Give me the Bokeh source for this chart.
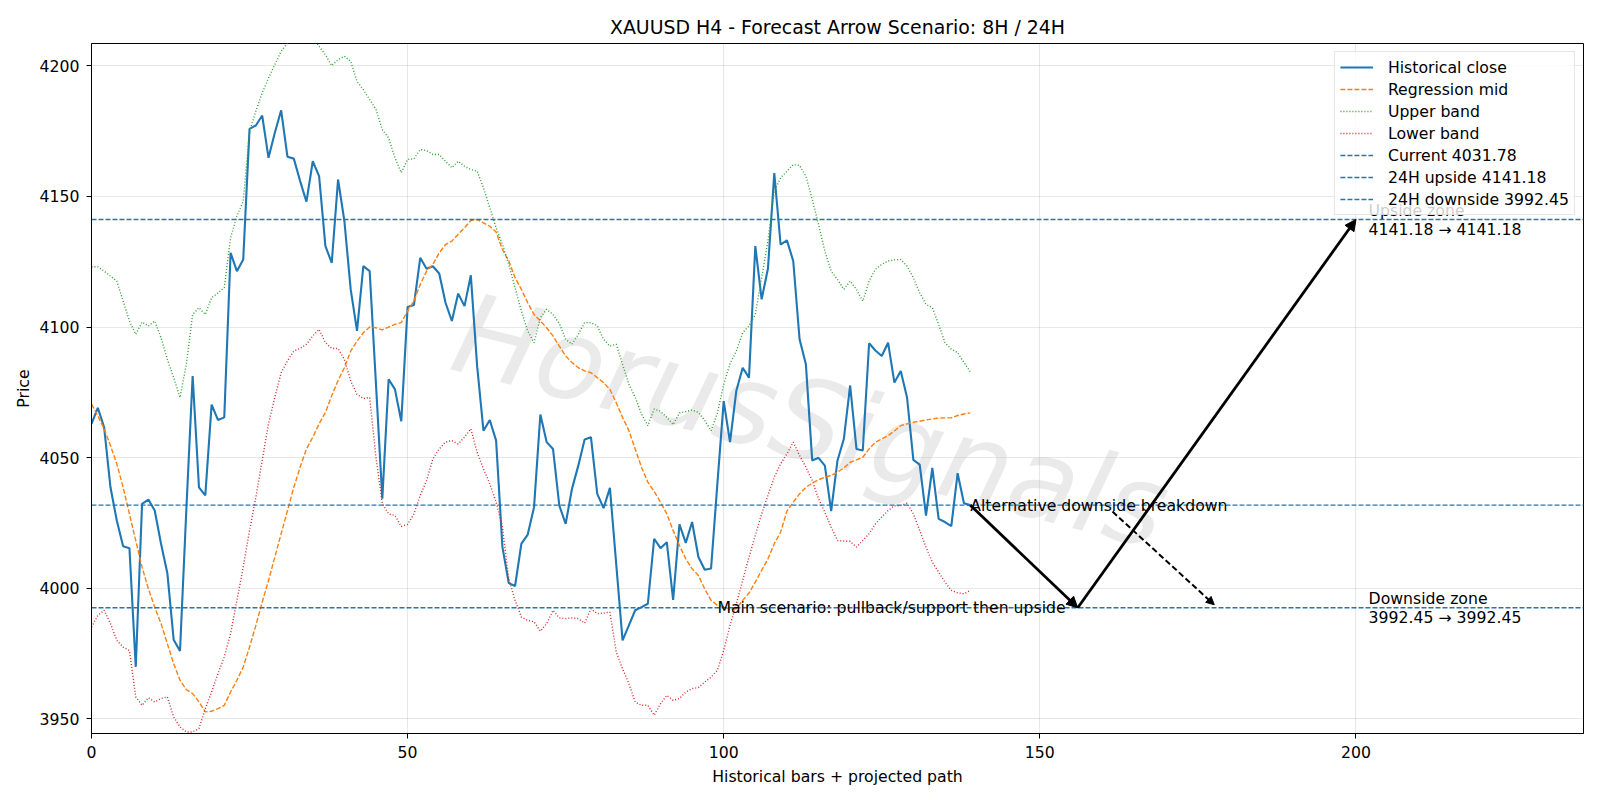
from bokeh.plotting import figure
from bokeh.models import Range1d, FixedTicker, Arrow, NormalHead, Legend, LegendItem
from bokeh.core.properties import value
from bokeh.embed import file_html
from bokeh.resources import INLINE

# ---- data -------------------------------------------------------------
bars = list(range(140))

close = [
    4062.9, 4069.0, 4061.6, 4038.6, 4025.9, 4016.0, 4015.3, 3969.8, 4032.3, 4033.9,
    4029.7, 4017.0, 4005.7, 3980.2, 3975.9, 4030.0, 4081.2, 4038.6, 4035.5, 4070.3,
    4064.4, 4065.4, 4128.4, 4121.4, 4125.9, 4175.9, 4177.2, 4181.0, 4164.8, 4174.4,
    4183.0, 4165.2, 4164.5, 4155.9, 4148.0, 4163.5, 4157.8, 4131.0, 4124.6, 4156.5,
    4140.6, 4114.4, 4098.5, 4123.3, 4121.4, 4078.0, 4034.2, 4080.0, 4076.1, 4063.9,
    4107.7, 4108.4, 4126.5, 4122.3, 4123.3, 4120.5, 4109.3, 4102.3, 4112.8, 4108.0,
    4119.8, 4085.0, 4060.3, 4064.4, 4056.5, 4015.7, 4001.9, 4000.8, 4017.0, 4020.5,
    4031.0, 4066.5, 4055.9, 4053.3, 4031.6, 4024.6, 4038.0, 4046.9, 4056.9, 4057.8,
    4036.1, 4030.6, 4038.4, 4009.2, 3980.0, 3985.7, 3991.5, 3992.7, 3994.0, 4018.9,
    4015.3, 4017.6, 3995.5, 4024.4, 4017.3, 4025.3, 4011.9, 4007.0, 4007.5, 4040.0,
    4071.6, 4055.9, 4075.6, 4084.4, 4080.6, 4131.0, 4110.6, 4122.4, 4159.0, 4131.6,
    4133.2, 4125.3, 4095.3, 4085.7, 4048.9, 4049.9, 4046.9, 4029.5, 4048.9, 4057.1,
    4077.6, 4053.3, 4052.7, 4093.8, 4091.0, 4088.9, 4094.0, 4078.7, 4083.2, 4073.0,
    4049.1, 4047.3, 4027.8, 4046.0, 4026.5, 4025.3, 4023.7, 4044.0, 4032.5, 4031.78,
]

reg_mid = [
    4070.5, 4066.0, 4061.0, 4054.6, 4047.6, 4038.6, 4028.4, 4018.2, 4008.0, 3999.7,
    3992.7, 3986.4, 3978.7, 3971.0, 3964.7, 3961.1, 3959.6, 3956.4, 3952.6, 3952.8,
    3953.8, 3955.1, 3960.2, 3964.7, 3969.8, 3977.4, 3985.7, 3994.6, 4002.9, 4011.9,
    4020.8, 4029.7, 4038.6, 4046.3, 4053.3, 4057.8, 4062.9, 4067.3, 4073.7, 4079.5,
    4084.4, 4090.8, 4094.6, 4097.8, 4100.0, 4099.7, 4098.9, 4100.0, 4101.0, 4101.7,
    4106.1, 4110.0, 4116.3, 4121.4, 4124.0, 4128.4, 4131.6, 4132.9, 4135.5, 4138.0,
    4140.8, 4141.2, 4139.9, 4138.6, 4136.4, 4129.7, 4125.3, 4118.9, 4114.4, 4109.3,
    4104.8, 4102.3, 4099.7, 4096.6, 4092.7, 4088.9, 4086.4, 4084.4, 4083.2, 4082.5,
    4080.6, 4078.7, 4076.1, 4071.0, 4065.4, 4060.3, 4053.3, 4046.3, 4040.6, 4037.0,
    4032.9, 4028.4, 4022.1, 4016.3, 4011.2, 4007.4, 4004.8, 3999.7, 3995.3, 3993.4,
    3993.0, 3991.7, 3992.1, 3995.3, 3998.1, 4002.3, 4006.8, 4011.2, 4017.0, 4021.4,
    4029.5, 4032.9, 4036.1, 4038.6, 4040.2, 4041.5, 4042.5, 4043.1, 4044.4, 4046.0,
    4048.2, 4049.1, 4050.1, 4053.3, 4055.9, 4057.1, 4058.4, 4060.2, 4062.2, 4062.9,
    4063.5, 4063.9, 4064.4, 4064.8, 4065.1, 4065.2, 4065.2, 4066.1, 4066.7, 4067.1,
]

upper_band = [
    4123.1, 4123.1, 4121.4, 4119.5, 4117.6, 4110.0, 4102.3, 4097.2, 4101.9, 4100.4,
    4102.3, 4095.9, 4087.6, 4080.6, 4073.0, 4085.7, 4104.8, 4107.4, 4104.8, 4111.2,
    4113.1, 4115.1, 4134.2, 4142.5, 4148.2, 4175.0, 4182.7, 4189.7, 4195.4, 4200.5,
    4205.6, 4208.8, 4213.0, 4216.0, 4215.0, 4211.0, 4207.5, 4204.3, 4200.1, 4202.4,
    4203.7, 4201.8, 4194.1, 4190.9, 4187.1, 4183.3, 4175.6, 4172.4, 4164.8, 4159.1,
    4164.2, 4164.4, 4168.0, 4167.6, 4166.1, 4166.1, 4163.5, 4161.0, 4163.5, 4161.6,
    4160.3, 4159.7, 4153.3, 4145.7, 4138.0, 4131.6, 4124.0, 4115.0, 4106.1, 4098.5,
    4094.0, 4103.6, 4106.8, 4104.8, 4101.3, 4095.3, 4093.4, 4097.2, 4101.7, 4101.7,
    4100.4, 4095.3, 4092.7, 4093.4, 4085.7, 4078.1, 4073.1, 4066.7, 4062.2, 4068.6,
    4067.7, 4065.4, 4062.6, 4067.1, 4067.6, 4068.2, 4067.3, 4064.2, 4060.3, 4067.0,
    4078.0, 4086.0, 4090.8, 4097.8, 4100.4, 4104.8, 4118.9, 4133.0, 4152.0, 4157.1,
    4159.7, 4162.2, 4161.9, 4157.8, 4148.9, 4139.3, 4129.1, 4121.4, 4118.2, 4114.4,
    4117.6, 4114.4, 4109.9, 4117.6, 4122.1, 4124.0, 4125.3, 4125.7, 4125.9, 4123.3,
    4118.9, 4113.1, 4108.7, 4107.4, 4101.0, 4094.0, 4091.5, 4090.2, 4086.4, 4082.9,
]

lower_band = [
    3985.1, 3989.5, 3991.5, 3986.4, 3980.0, 3977.4, 3976.1, 3958.3, 3955.1, 3958.0,
    3956.4, 3957.7, 3958.3, 3950.6, 3946.8, 3944.9, 3944.9, 3946.2, 3953.8, 3960.2,
    3967.2, 3973.6, 3982.5, 3995.3, 4008.0, 4022.1, 4034.8, 4048.9, 4063.0, 4073.1,
    4082.5, 4087.0, 4090.8, 4091.8, 4093.4, 4096.6, 4099.1, 4094.0, 4091.8, 4091.8,
    4087.6, 4079.3, 4074.2, 4072.6, 4073.0, 4050.0, 4032.3, 4028.4, 4027.8, 4023.6,
    4024.4, 4028.4, 4035.5, 4041.2, 4049.5, 4053.3, 4055.9, 4056.5, 4055.2, 4057.8,
    4061.0, 4052.0, 4045.7, 4039.9, 4033.0, 4023.3, 4003.6, 3995.3, 3988.9, 3987.6,
    3987.1, 3983.5, 3986.4, 3991.5, 3988.6, 3988.3, 3988.6, 3988.3, 3986.6, 3992.1,
    3990.2, 3990.4, 3990.8, 3975.5, 3969.1, 3963.4, 3956.4, 3955.1, 3955.1, 3951.3,
    3955.7, 3958.9, 3957.0, 3957.7, 3960.2, 3961.5, 3961.9, 3964.0, 3965.9, 3968.5,
    3976.1, 3985.7, 3994.0, 4002.9, 4011.9, 4020.2, 4028.4, 4035.5, 4042.5, 4047.6,
    4051.4, 4055.9, 4050.8, 4046.3, 4041.2, 4034.2, 4029.1, 4023.3, 4018.2, 4018.0,
    4017.9, 4015.7, 4018.2, 4020.8, 4024.6, 4027.2, 4029.7, 4031.5, 4031.6, 4032.5,
    4028.4, 4022.1, 4015.7, 4009.9, 4006.1, 4002.3, 3999.1, 3998.2, 3997.8, 3999.1,
]

current_price = 4031.78
upside_24h = 4141.18
downside_24h = 3992.45

# projected main path: last bar -> support -> upside target
path_x = [139, 156, 200]
path_y = [current_price, downside_24h, upside_24h]
# alternative breakdown arrow
alt_x = [161.5, 177.6]
alt_y = [4029.3, 3993.6]

x_limits = (0, 236)
y_limits = (3944.3, 4208.6)
x_ticks = [0, 50, 100, 150, 200]
y_ticks = [3950, 4000, 4050, 4100, 4150, 4200]

FONT = "DejaVu Sans"
FS = "15.7px"

# ---- figure -----------------------------------------------------------
p = figure(
    width=1600, height=800, output_backend="svg", toolbar_location=None,
    x_range=Range1d(*x_limits), y_range=Range1d(*y_limits),
    min_border_left=91, min_border_right=17, min_border_top=43, min_border_bottom=67,
    title="XAUUSD H4 - Forecast Arrow Scenario: 8H / 24H",
)
p.background_fill_color = "white"
p.border_fill_color = "white"
p.outline_line_color = "black"
p.outline_line_width = 1

p.title.align = "center"
p.title.text_font = FONT
p.title.text_font_size = "18.9px"
p.title.text_font_style = "normal"
p.title.text_color = "black"
p.title.standoff = 12

for ax, ticks in ((p.xaxis, x_ticks), (p.yaxis, y_ticks)):
    ax.ticker = FixedTicker(ticks=ticks)
    ax.major_label_text_font = FONT
    ax.major_label_text_font_size = FS
    ax.major_label_text_color = "black"
    ax.axis_label_text_font = FONT
    ax.axis_label_text_font_size = FS
    ax.axis_label_text_font_style = "normal"
    ax.axis_label_text_color = "black"
    ax.major_tick_out = 5
    ax.major_tick_in = 0
    ax.minor_tick_line_color = None
    ax.axis_line_color = "black"
    ax.major_tick_line_color = "black"

p.xaxis.axis_label = "Historical bars + projected path"
p.yaxis.axis_label = "Price"
p.xaxis.major_label_standoff = 7
p.xaxis.axis_label_standoff = 6
p.yaxis.major_label_standoff = 7
p.yaxis.axis_label_standoff = 4

for g in (p.xgrid, p.ygrid):
    g.grid_line_color = "#b0b0b0"
    g.grid_line_alpha = 0.3
    g.grid_line_width = 1.1

# ---- watermark --------------------------------------------------------
p.text(x=[113.8], y=[4064.0], text=["HorusSignals"], angle=-0.25,
       text_font=value(FONT), text_font_size="112px", text_font_style="italic",
       text_align="center", text_baseline="middle",
       text_color="#b8b8b8", text_alpha=0.3)

# ---- series -----------------------------------------------------------
r_close = p.line(bars, close, line_color="#1f77b4", line_width=2.1)
r_mid = p.line(bars, reg_mid, line_color="#ff7f0e", line_width=1.4, line_dash="5 2")
r_up = p.line(bars, upper_band, line_color="#2ca02c", line_width=1.4, line_dash="1 2")
r_low = p.line(bars, lower_band, line_color="#d62728", line_width=1.4, line_dash="1 2")

r_cur = p.line(list(x_limits), [current_price] * 2, line_color="#1f77b4", line_width=1.4, line_dash="5 2")
r_hi = p.line(list(x_limits), [upside_24h] * 2, line_color="#1f77b4", line_width=1.4, line_dash="5 2")
r_lo = p.line(list(x_limits), [downside_24h] * 2, line_color="#1f77b4", line_width=1.4, line_dash="5 2")

# ---- scenario arrows ---------------------------------------------------
for i in range(len(path_x) - 1):
    p.add_layout(Arrow(
        x_start=path_x[i], y_start=path_y[i], x_end=path_x[i + 1], y_end=path_y[i + 1],
        line_color="black", line_width=2.8,
        end=NormalHead(size=11, fill_color="black", line_color="black", line_width=1),
    ))
p.add_layout(Arrow(
    x_start=alt_x[0], y_start=alt_y[0], x_end=alt_x[1], y_end=alt_y[1],
    line_color="black", line_width=2.0, line_dash="6 3",
    end=NormalHead(size=8, fill_color="black", line_color="black", line_width=1),
))

# ---- annotations ------------------------------------------------------
p.text(x=[99, 139], y=[downside_24h, current_price],
       text=["Main scenario: pullback/support then upside", "Alternative downside breakdown"],
       text_font=value(FONT), text_font_size=FS, text_color="black",
       text_align="left", text_baseline="alphabetic")

zone_x = [202, 202]
zone_y = [upside_24h, downside_24h]
zone_titles = ["Upside zone", "Downside zone"]
zone_ranges = [f"{upside_24h:.2f} \u2192 {upside_24h:.2f}", f"{downside_24h:.2f} \u2192 {downside_24h:.2f}"]
p.text(x=zone_x, y=zone_y, text=zone_titles, y_offset=-9,
       text_font=value(FONT), text_font_size=FS, text_color="black",
       text_align="left", text_baseline="middle")
p.text(x=zone_x, y=zone_y, text=zone_ranges, y_offset=9.5,
       text_font=value(FONT), text_font_size=FS, text_color="black",
       text_align="left", text_baseline="middle")

# ---- legend -----------------------------------------------------------
legend = Legend(items=[
    LegendItem(label="Historical close", renderers=[r_close]),
    LegendItem(label="Regression mid", renderers=[r_mid]),
    LegendItem(label="Upper band", renderers=[r_up]),
    LegendItem(label="Lower band", renderers=[r_low]),
    LegendItem(label=f"Current {current_price:.2f}", renderers=[r_cur]),
    LegendItem(label=f"24H upside {upside_24h:.2f}", renderers=[r_hi]),
    LegendItem(label=f"24H downside {downside_24h:.2f}", renderers=[r_lo]),
], location="top_right")
legend.margin = 8
legend.padding = 5
legend.spacing = 2
legend.label_height = 20
legend.glyph_height = 20
legend.glyph_width = 33
legend.label_standoff = 15
legend.label_text_font = FONT
legend.label_text_font_size = FS
legend.label_text_color = "black"
legend.border_line_color = "#cccccc"
legend.border_line_width = 1
legend.background_fill_color = "white"
legend.background_fill_alpha = 0.8
p.add_layout(legend)

open("out.html", "w").write(file_html(p, INLINE))
